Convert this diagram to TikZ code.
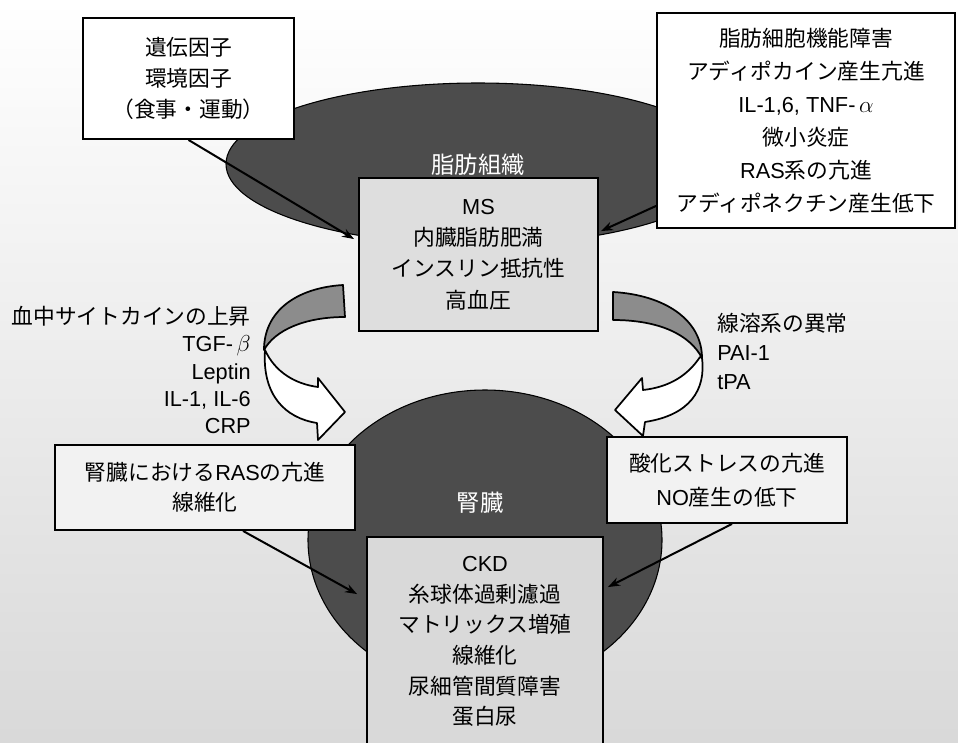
\documentclass[tikz,border=0pt]{standalone}
\usepackage{fontspec}
\setmainfont{Noto Sans CJK JP}
\newfontfamily\latf{Liberation Sans}
\newcommand\lat[1]{{\latf #1}}
\usetikzlibrary{calc,arrows.meta}
\begin{document}
\begin{tikzpicture}[x=0.75pt,y=-0.75pt,
  every node/.style={font=\fontsize{16.3}{23.5}\selectfont},
  box/.style={draw=black, line width=1.4pt, align=center, inner sep=0pt},
  conn/.style={line width=1.5pt, -{Stealth[length=9pt,width=6.5pt]}},
  ell/.style={fill=black!70, draw=black, line width=0.8pt},
  elab/.style={text=white, font=\fontsize{17.5}{20}\selectfont},
  side/.style={inner sep=0pt},
  arrw/.style={draw=black, line width=1.3pt, fill=white, line join=round},
  arrg/.style={draw=black, line width=1.3pt, fill=black!45, line join=round}]
\useasboundingbox (0,0) rectangle (958,743);
\shade[top color=white, bottom color=black!15] (0,0) rectangle (958,743);

% ellipses
\path[ell] (478,164) ellipse [x radius=189pt, y radius=60.75pt];
\path[ell] (485,540) ellipse [x radius=132.75pt, y radius=112.5pt];
\node[elab] (fatlab) at (478,165) {脂肪組織};
\node[elab] (kidlab) at (480,503) {腎臓};

% curved arrows (left)
\path[arrw] (265,350) .. controls (275,372) and (295,384) .. (318,387) -- (318,378) -- (345,412) -- (318,440) -- (317,423) .. controls (285,418) and (262,395) .. (265,350) -- cycle;
\path[arrg] (343,285) .. controls (295,288) and (264,312) .. (264,350) .. controls (275,330) and (305,317) .. (345,317) -- cycle;
% curved arrows (right)
\path[arrw] (700,357) .. controls (688,375) and (670,387) .. (643,390) -- (642,378) -- (615,410) -- (643,436) -- (645,422) .. controls (690,415) and (706,390) .. (702,358) -- cycle;
\path[arrg] (613,292) .. controls (665,295) and (702,320) .. (702,358) .. controls (690,335) and (660,320) .. (613,320) -- cycle;

% boxes
\node[box, fill=white, minimum width=158.25pt, minimum height=90.75pt] (tl) at (188.5,78.5)
  {遺伝因子\\環境因子\\（食事・運動）};
\node[box, fill=white, minimum width=223.5pt, minimum height=161.25pt,
  font=\fontsize{16.3}{24.75}\selectfont] (tr) at (806,120.5)
  {脂肪細胞機能障害\\アディポカイン産生亢進\\\lat{IL-1,6, TNF-}\,$\alpha$\\微小炎症\\\lat{RAS}系の亢進\\アディポネクチン産生低下};
\node[box, fill=black!13, minimum width=179.25pt, minimum height=114.75pt] (ms) at (478.5,254.5)
  {\lat{MS}\\内臓脂肪肥満\\インスリン抵抗性\\高血圧};
\node[box, fill=black!5, minimum width=225pt, minimum height=63.75pt,
  font=\fontsize{16.3}{22.5}\selectfont] (lk) at (205,487.5)
  {腎臓における\lat{RAS}の亢進\\線維化};
\node[box, fill=black!5, minimum width=180pt, minimum height=64.5pt,
  font=\fontsize{16.3}{25.5}\selectfont] (rk) at (727,480)
  {酸化ストレスの亢進\\\lat{NO}産生の低下};
\node[box, fill=black!15, minimum width=177pt, minimum height=156.75pt,
  font=\fontsize{16.3}{23}\selectfont] (ckd) at (485,641.5)
  {\lat{CKD}\\糸球体過剰濾過\\マトリックス増殖\\線維化\\尿細管間質障害\\蛋白尿};

% side texts
\node[side, anchor=east, align=right, font=\fontsize{16.3}{20.6}\selectfont] (cyto) at (251,370)
  {血中サイトカインの上昇\\\lat{TGF-}\,$\beta$\\\lat{Leptin}\\\lat{IL-1, IL-6}\\\lat{CRP}};
\node[side, anchor=west, align=left, font=\fontsize{16.3}{21.75}\selectfont] (fib) at (717,351)
  {線溶系の異常\\\lat{PAI-1}\\\lat{tPA}};

% connectors
\draw[conn] (tl.south) -- ($(ms.north west)+(-4,62)$);
\draw[conn] ($(tr.south west)+(0,-23)$) -- ($(ms.north east)+(2,54)$);
\draw[conn] ($(lk.south)+(38,0)$) -- ($(ckd.north west)+(-9,58)$);
\draw[conn] ($(rk.south)+(5,0)$) -- ($(ckd.north east)+(4,51)$);
\end{tikzpicture}
\end{document}
